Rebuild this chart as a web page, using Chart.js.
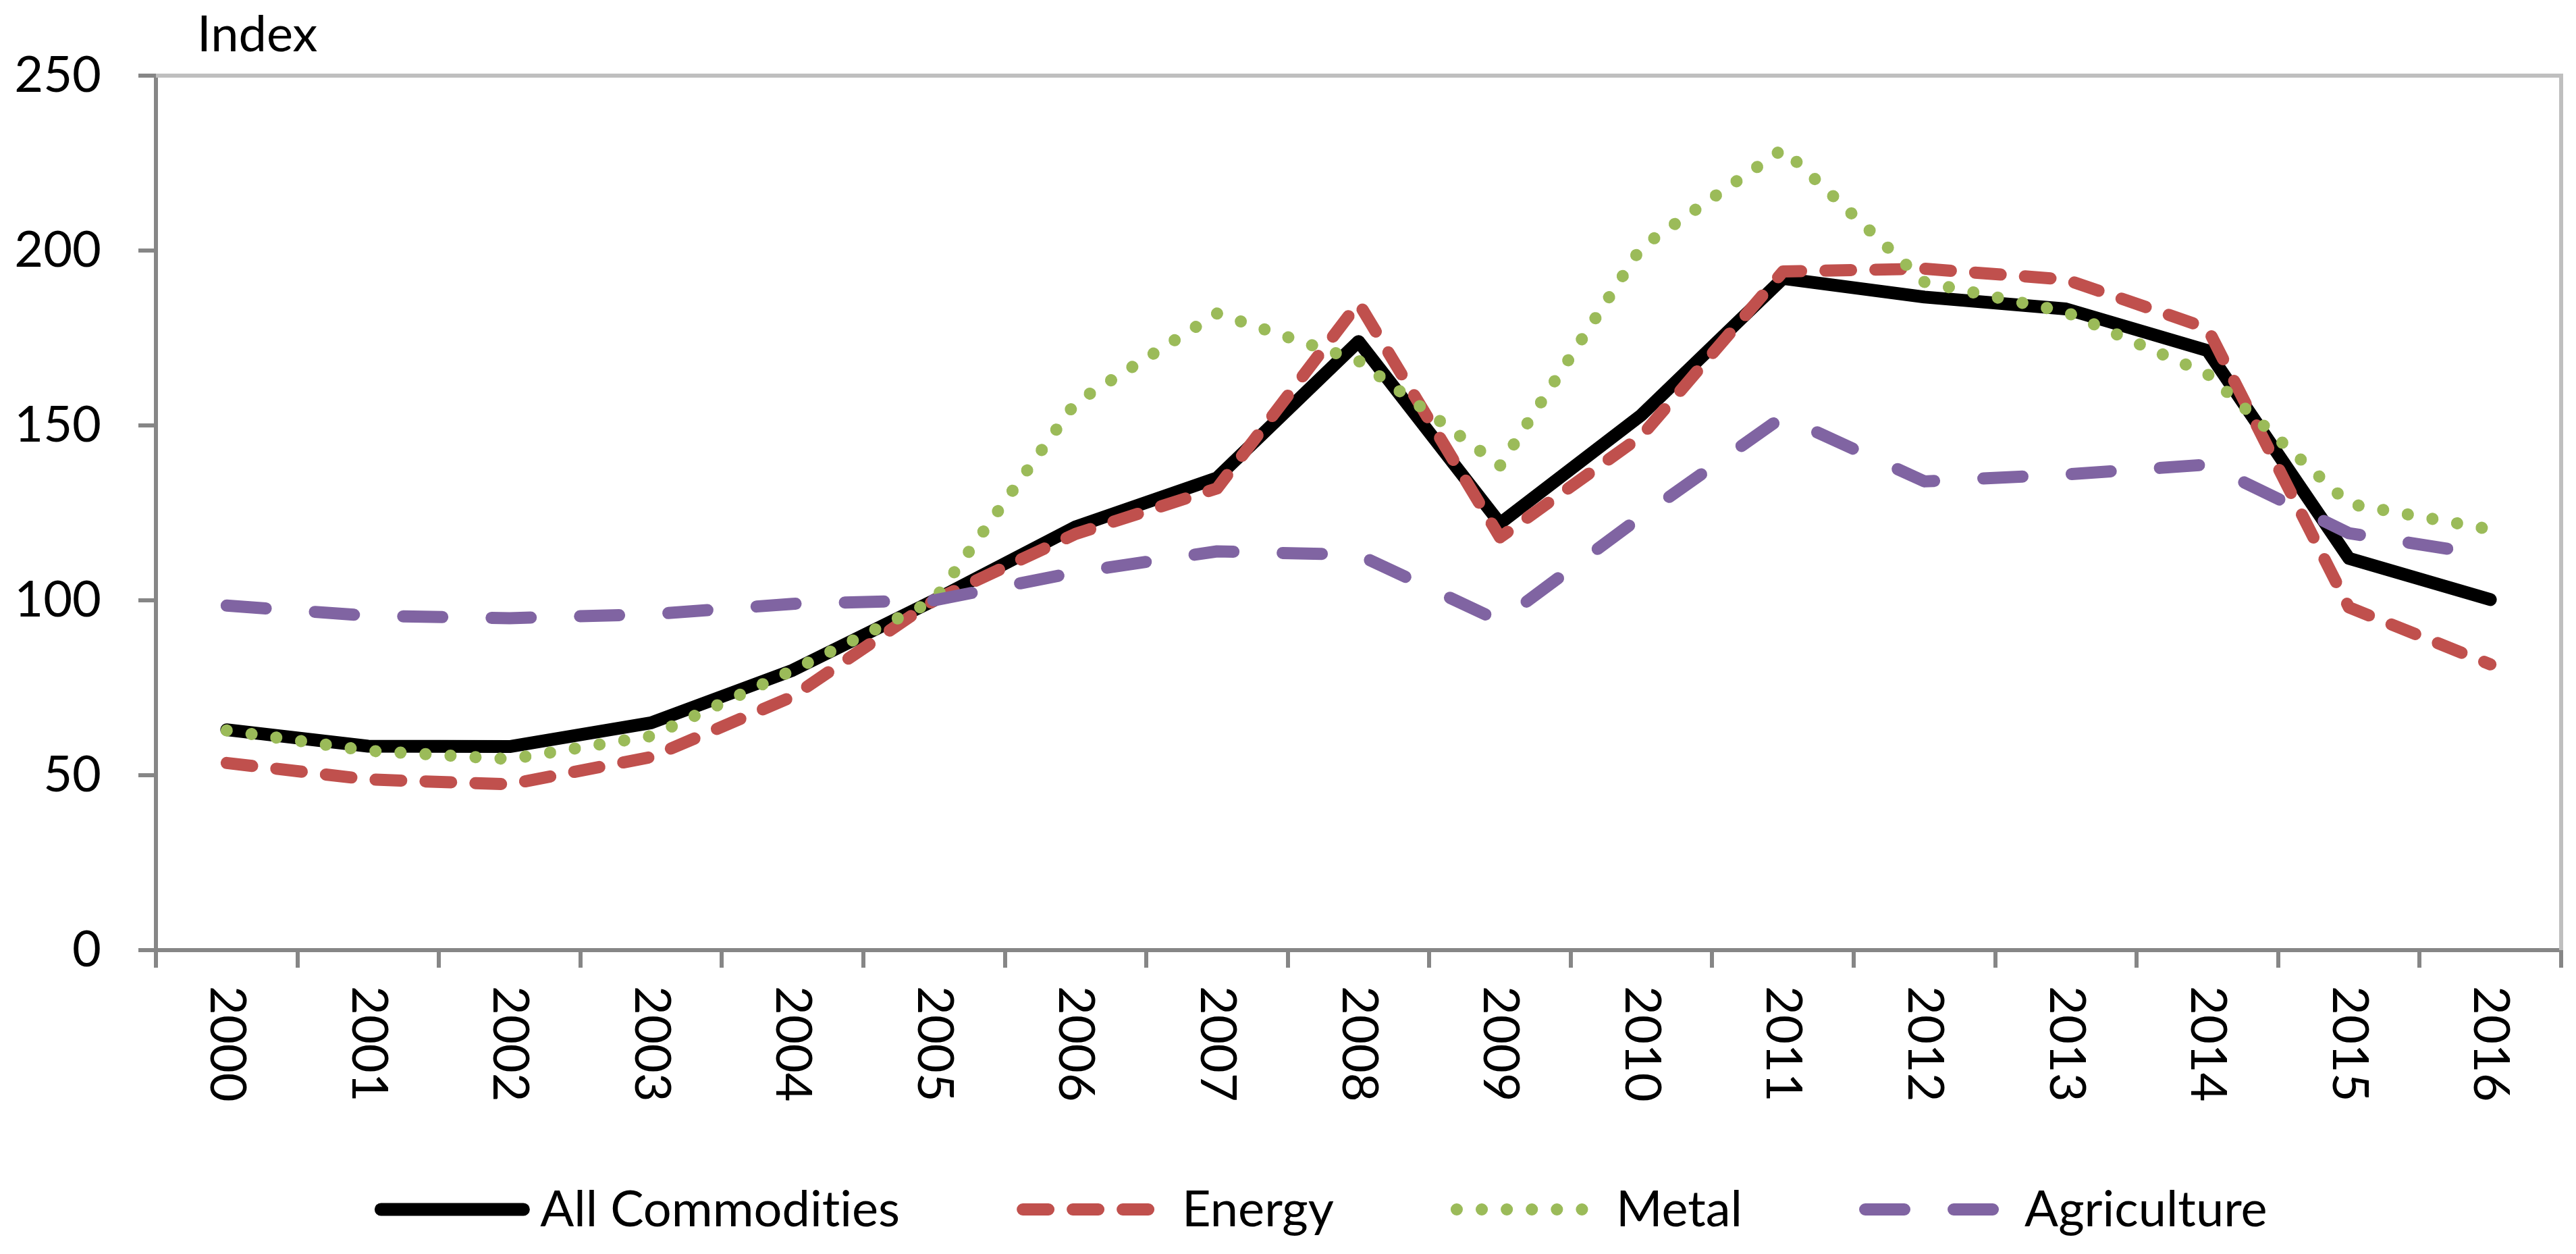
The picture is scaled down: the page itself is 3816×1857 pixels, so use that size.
<!DOCTYPE html>
<html>
<head>
<meta charset="utf-8">
<title>Commodity price index</title>
<script src="https://cdn.jsdelivr.net/npm/chart.js@4"></script>
<style>
    html, body { margin: 0; padding: 0; background: #fff; }
    canvas { display: block; }
</style>
</head>
<body>
<canvas id="chart" width="3816" height="1857"></canvas>
<script>
// values (2005 = 100)
const years = ["2000", "2001", "2002", "2003", "2004", "2005", "2006", "2007", "2008",
    "2009", "2010", "2011", "2012", "2013", "2014", "2015", "2016"];

const allCommodities = [63, 58.3, 58.2, 65, 80, 100, 121, 135, 174, 122, 153, 192, 186.7, 183.3, 171.4, 112, 100.2];
const energy = [53.5, 48.8, 47.4, 55.2, 72.5, 100, 119, 132, 185, 118, 147, 194, 194.8, 191.7, 177.8, 98, 81.7];
const metal = [62.8, 57, 54.6, 61.2, 80, 100, 156.5, 182, 168.5, 138.5, 201, 229, 191, 182.4, 164.7, 127.6, 120.3];
const agriculture = [98.5, 95.6, 94.9, 96, 99, 100, 108, 114, 113, 94, 124, 152.5, 134, 136, 138.8, 119.2, 112.8];

const yTicks = [0, 50, 100, 150, 200, 250];
const yTitle = "Index";

const FONT = "Lato";
const AXIS_GREY = "#868686";
const BORDER_GREY = "#BFBFBF";

Chart.defaults.font.family = FONT;
Chart.defaults.font.size = 74;
Chart.defaults.color = "#000";

// no "ti" ligature in the legend text
function plainText(ctx) {
    ctx.textRendering = "optimizeSpeed";
    ctx.fontKerning = "normal";
}

// top and right edge of the plot area, the y title and the rotated year labels
const framePlugin = {
    id: "frame",
    beforeDatasetsDraw(chart) {
        const { ctx, chartArea } = chart;
        ctx.save();
        ctx.strokeStyle = BORDER_GREY;
        ctx.lineWidth = 6;
        ctx.beginPath();
        ctx.moveTo(chartArea.left, chartArea.top);
        ctx.lineTo(chartArea.right, chartArea.top);
        ctx.lineTo(chartArea.right, chartArea.bottom);
        ctx.stroke();
        ctx.restore();
    },
    afterDraw(chart) {
        const { ctx, chartArea } = chart;
        const xScale = chart.scales.x;

        ctx.save();
        plainText(ctx);
        ctx.fillStyle = "#000";
        ctx.font = "74px " + FONT;
        ctx.textAlign = "left";
        ctx.textBaseline = "alphabetic";
        ctx.fillText(yTitle, 292, 76);

        chart.data.labels.forEach((label, i) => {
            const x = xScale.getPixelForValue(i);
            ctx.save();
            ctx.translate(x, chartArea.bottom + 53);
            ctx.rotate(Math.PI / 2);
            ctx.textAlign = "left";
            ctx.textBaseline = "middle";
            ctx.fillText(label, 0, 0);
            ctx.restore();
        });
        ctx.restore();
    }
};

// legend drawn as line swatches with the dataset dash styles
const legendPlugin = {
    id: "lineLegend",
    afterDraw(chart) {
        const ctx = chart.ctx;
        const swatch = 245;
        const gap = 173;
        const y = 1791;

        ctx.save();
        plainText(ctx);
        ctx.font = "74px " + FONT;
        const items = chart.data.datasets.map(ds => ({
            ds: ds,
            w: ctx.measureText(ds.label).width
        }));
        let total = 0;
        items.forEach((it, i) => {
            total += swatch + it.w + (i < items.length - 1 ? gap : 0);
        });

        let x = 1957 - total / 2;
        items.forEach(it => {
            const ds = it.ds;
            const len = ds.borderDash.length ? 189 : 211;
            ctx.strokeStyle = ds.borderColor;
            ctx.lineWidth = ds.borderWidth;
            ctx.lineCap = "round";
            ctx.setLineDash(ds.borderDash);
            ctx.beginPath();
            ctx.moveTo(x + 9, y);
            ctx.lineTo(x + 9 + len, y);
            ctx.stroke();
            ctx.setLineDash([]);

            ctx.fillStyle = "#000";
            ctx.textAlign = "left";
            ctx.textBaseline = "alphabetic";
            ctx.fillText(ds.label, x + swatch, 1816);
            x += swatch + it.w + gap;
        });
        ctx.restore();
    }
};

function makeSeries(label, data, color, dash, width, order) {
    return {
        label: label,
        data: data,
        borderColor: color,
        backgroundColor: color,
        borderWidth: width,
        borderDash: dash,
        borderCapStyle: "round",
        borderJoinStyle: "round",
        pointRadius: 0,
        pointHoverRadius: 0,
        tension: 0,
        fill: false,
        order: order
    };
}

const canvas = document.getElementById("chart");

new Chart(canvas, {
    type: "line",
    data: {
        labels: years,
        datasets: [
            makeSeries("All Commodities", allCommodities, "#000000", [], 19, 4),
            makeSeries("Energy", energy, "#C0504D", [38, 36], 18, 3),
            makeSeries("Metal", metal, "#9BBB59", [0.1, 37], 18, 2),
            makeSeries("Agriculture", agriculture, "#8064A2", [58, 73], 18, 1)
        ]
    },
    options: {
        responsive: false,
        devicePixelRatio: 1,
        animation: false,
        layout: {
            padding: { top: 112, right: 22, bottom: 0, left: 0 }
        },
        plugins: {
            legend: { display: false },
            tooltip: { enabled: false },
            title: { display: false }
        },
        scales: {
            x: {
                type: "category",
                offset: true,
                grid: {
                    offset: true,
                    drawOnChartArea: false,
                    drawTicks: true,
                    tickLength: 26,
                    color: AXIS_GREY,
                    lineWidth: 6
                },
                border: { color: AXIS_GREY, width: 6 },
                ticks: { display: false },
                afterFit(scale) {
                    scale.height = 450;
                }
            },
            y: {
                min: 0,
                max: 250,
                afterBuildTicks(scale) {
                    scale.ticks = yTicks.map(v => ({ value: v }));
                },
                grid: {
                    drawOnChartArea: false,
                    drawTicks: true,
                    tickLength: 26,
                    color: AXIS_GREY,
                    lineWidth: 6
                },
                border: { color: AXIS_GREY, width: 6 },
                ticks: {
                    padding: 55,
                    color: "#000",
                    font: { size: 74, family: FONT }
                },
                afterFit(scale) {
                    scale.width = 231;
                }
            }
        }
    },
    plugins: [framePlugin, legendPlugin]
});
</script>
</body>
</html>
